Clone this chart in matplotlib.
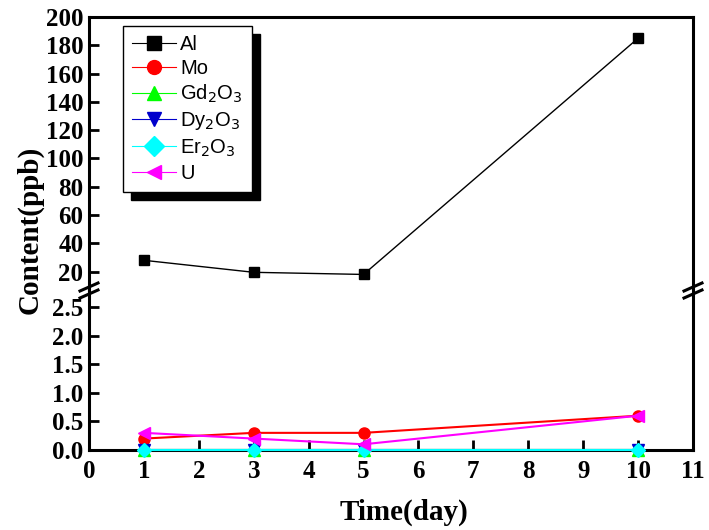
import numpy as np
import matplotlib.pyplot as plt
from matplotlib.lines import Line2D

# Data
days = [1, 3, 5, 10]
al = [28, 19.5, 18, 185]
mo = [0.2, 0.3, 0.3, 0.6]
gd2o3 = [0, 0, 0, 0]
dy2o3 = [0, 0, 0, 0]
er2o3 = [0, 0, 0, 0]
u = [0.3, 0.2, 0.1, 0.6]

series = [
    ('Al', al, 'black', 's'),
    ('Mo', mo, 'red', 'o'),
    ('Gd$_2$O$_3$', gd2o3, '#00ff00', '^'),
    ('Dy$_2$O$_3$', dy2o3, '#0000cc', 'v'),
    ('Er$_2$O$_3$', er2o3, 'cyan', 'D'),
    ('U', u, 'magenta', '<'),
]

serif = 'Liberation Serif'
W, H = 709, 530
fig = plt.figure(figsize=(W / 100, H / 100), dpi=100)

left, right = 89 / W, 693 / W
y_top, y_brk, y_bot = 1 - 17 / H, 1 - 290 / H, 1 - 450 / H
ax_top = fig.add_axes([left, y_brk, right - left, y_top - y_brk])
ax_bot = fig.add_axes([left, y_bot, right - left, y_brk - y_bot])

handles = []
for name, vals, col, mk in series:
    ms = 7 if mk in ('s', 'D') else 8
    lw = 1.0 if name == 'Al' else 1.5
    for ax in (ax_top, ax_bot):
        ax.plot(days, vals, color=col, marker=mk, markersize=ms, lw=lw,
                clip_on=False, zorder=3)
    handles.append(Line2D([], [], color=col, marker=mk, markersize=10, lw=0.8, label=name))

# axis limits
ax_top.set_ylim(7, 200)
ax_bot.set_ylim(0, 2.8)
for ax in (ax_top, ax_bot):
    ax.set_xlim(0, 11)
    for s in ax.spines.values():
        s.set_linewidth(2.2)
    ax.tick_params(direction='in', length=7, width=2, labelsize=18)

ax_top.spines['bottom'].set_visible(False)
ax_bot.spines['top'].set_visible(False)
ax_top.set_xticks([])
ax_top.set_yticks(np.arange(20, 201, 20))
ax_bot.set_yticks(np.arange(0, 2.6, 0.5))
ax_bot.set_yticklabels(['%.1f' % v for v in np.arange(0, 2.6, 0.5)])
ax_bot.set_xticks(range(0, 12))
for ax in (ax_top, ax_bot):
    for lab in ax.get_yticklabels() + ax.get_xticklabels():
        lab.set_fontfamily(serif)
        lab.set_fontweight('bold')
ax_top.tick_params(axis='y', pad=4)
ax_bot.tick_params(axis='y', pad=4)
ax_bot.tick_params(axis='x', pad=7)

# break marks
for xf in (left, right):
    for dy in (-4, 3):
        yc = y_brk + dy / H
        fig.add_artist(Line2D([xf - 9 / W, xf + 9 / W], [yc - 4 / H, yc + 4 / H],
                              color='black', lw=2.2))

leg = ax_top.legend(handles=handles, loc='upper left', bbox_to_anchor=(0.056, 0.968),
                    prop={'family': 'Liberation Sans', 'size': 14.5},
                    frameon=True, fancybox=False, edgecolor='black',
                    shadow={'ox': 6, 'oy': -6, 'color': 'black', 'alpha': 1},
                    handlelength=2.2, handletextpad=0.2, labelspacing=0.25,
                    borderpad=0.45, borderaxespad=0)
leg.get_frame().set_linewidth(1.0)

fig.text(30 / W, 1 - 230 / H, 'Content(ppb)', rotation=90, ha='center', va='center',
         fontsize=21, fontfamily=serif, fontweight='bold')
fig.text(404 / W, 1 - 512 / H, 'Time(day)', ha='center', va='center',
         fontsize=21, fontfamily=serif, fontweight='bold')

fig.savefig('out.png', dpi=100)
